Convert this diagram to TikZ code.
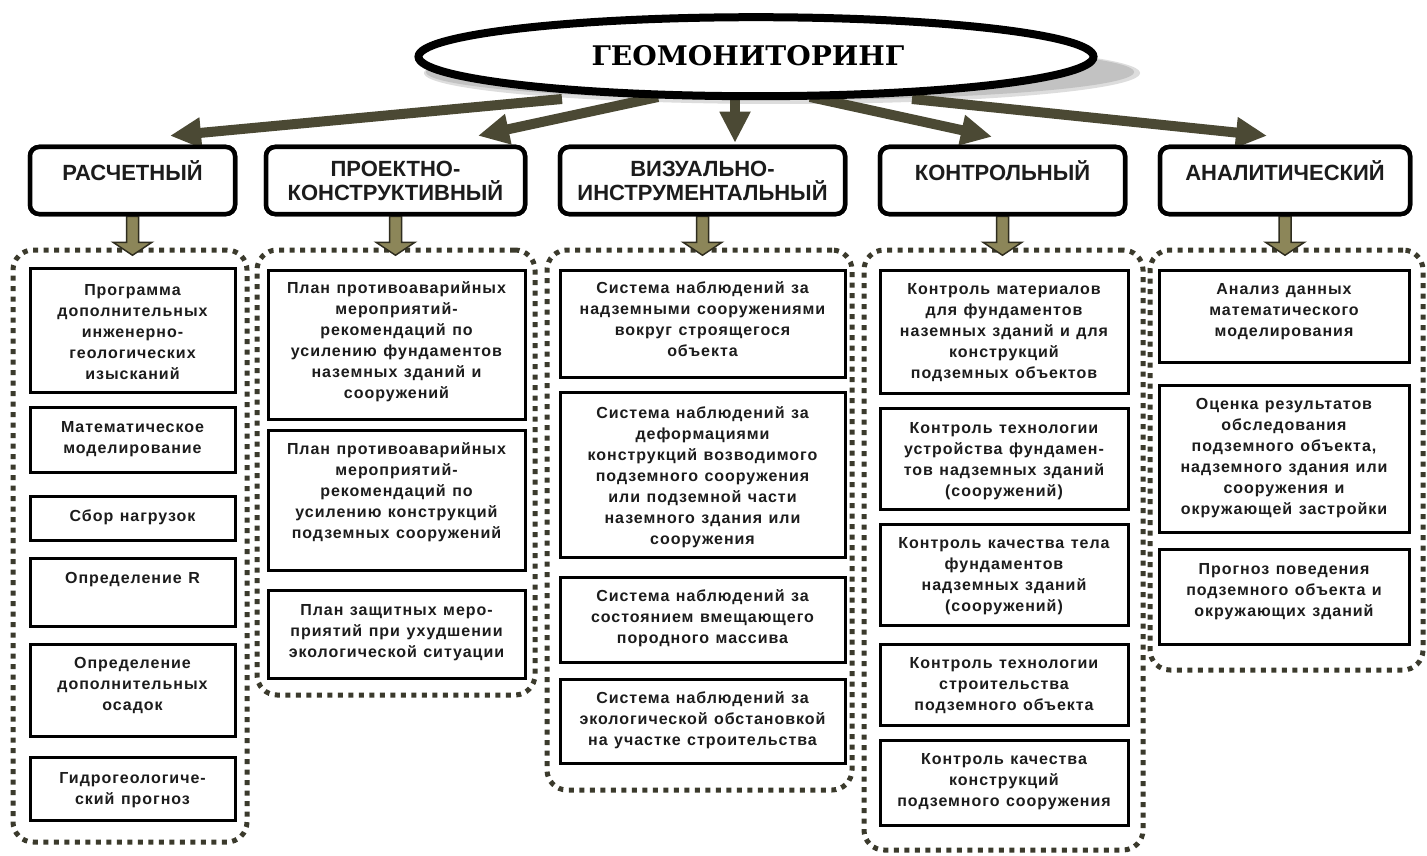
\documentclass[tikz,border=0pt]{standalone}
\usepackage{fontspec}
\setmainfont{Liberation Sans}
\newfontfamily\geofont[FakeStretch=1.04]{DejaVu Serif}
\newfontfamily\cellfont[LetterSpace=6]{Liberation Sans}
\usetikzlibrary{arrows.meta,calc,shapes.geometric}
\definecolor{dotc}{HTML}{3B3A2C}
\definecolor{arrowc}{HTML}{4B4934}
\definecolor{dnfill}{HTML}{8C8659}
\definecolor{dnedge}{HTML}{2F2D1F}
\definecolor{shadowc}{HTML}{C2C2C2}
\definecolor{txtc}{HTML}{1C1C1C}
\newcommand\mkbox[6]{\node[#1,minimum width={(#5-#3)*1pt},minimum height={(#6-#4)*1pt}] (#2) at ({(#3+#5)/2},{(#4+#6)/2}) {};}
\newcommand\cstrut{\rule{0pt}{12pt}}
\newcommand\tstrut{\rule{0pt}{16pt}}
\newcommand\cellset{\cellfont\bfseries\fontsize{16}{21}\selectfont\spaceskip=6.5pt plus 1pt\relax}
\newcommand\dnarrow[1]{\filldraw[dnarr] ($(#1.south)+(-6,0)$) -- ($(#1.south)+(-6,26)$) -- ($(#1.south)+(-19.5,26)$) -- ($(#1.south)+(0,39)$) -- ($(#1.south)+(19.5,26)$) -- ($(#1.south)+(6,26)$) -- ($(#1.south)+(6,0)$) -- cycle;}
\tikzset{
  topbox/.style={draw=black, line width=4.5pt, rounded corners=9pt, fill=white, inner sep=0pt},
  cellbox/.style={draw=black, line width=3pt, fill=white, inner sep=0pt},
  cont/.style={draw=dotc, line width=5pt, dash pattern=on 5pt off 5.5pt, rounded corners=20pt, inner sep=0pt},
  toptxt/.style={anchor=north, inner sep=0pt, align=center, text=txtc, font=\bfseries\fontsize{22}{24}\selectfont},
  celltxt/.style={anchor=north, inner sep=0pt, align=center, text=txtc, font=\cellset},
  bigarrow/.style={draw=arrowc, line width=10pt, -{Triangle[length=31pt,width=29pt]}},
  dnarr/.style={fill=dnfill, draw=dnedge, line width=1.5pt, line join=miter},
}
\begin{document}
\begin{tikzpicture}[x=1pt,y=-1pt]
\fill[white] (0,0) rectangle (1427,856);
\useasboundingbox (0,0) rectangle (1427,856);

% top level boxes
\mkbox{topbox}{r1}{30}{147}{235}{214}
\mkbox{topbox}{r2}{266}{147}{525}{214}
\mkbox{topbox}{r3}{560}{147}{845}{214}
\mkbox{topbox}{r4}{880}{147}{1125}{214}
\mkbox{topbox}{r5}{1160}{147}{1410}{214}

% shadow of ellipse
\fill[shadowc!55] (782,73) ellipse [x radius=358, y radius=31];
\fill[shadowc] (780,72) ellipse [x radius=354, y radius=28];

% ellipse tails and arrow tips
\coordinate (s1) at (562,99);
\coordinate (s2) at (658,97);
\coordinate (s3) at (735,98);
\coordinate (s4) at (810,97);
\coordinate (s5) at (912,99);
\coordinate (e1) at ($(r1.north)+(37.5,-9)$);
\coordinate (e2) at ($(r2.north)+(82.5,-9)$);
\coordinate (e3) at ($(r3.north)+(32.5,-2)$);
\coordinate (e4) at ($(r4.north)+(-10.5,-8)$);
\coordinate (e5) at ($(r5.north)+(-18,-9)$);
\draw[bigarrow] (s1) -- (e1);
\draw[bigarrow] (s2) -- (e2);
\draw[bigarrow] (s3) -- (e3);
\draw[bigarrow] (s4) -- (e4);
\draw[bigarrow] (s5) -- (e5);

% ellipse
\node[draw=black, fill=white, ellipse, line width=8pt, minimum width=675pt, minimum height=79pt, inner sep=0pt] (geo) at (756,56.7) {};
\node[inner sep=0pt, text=black, font=\geofont\bfseries\fontsize{27}{27}\selectfont] (geot) at (748,56) {ГЕОМОНИТОРИНГ};

% containers
\mkbox{cont}{k1}{13}{250}{247}{842}
\mkbox{cont}{k2}{257}{250}{535}{695}
\mkbox{cont}{k3}{547}{250}{852}{790}
\mkbox{cont}{k4}{864}{250}{1143}{850}
\mkbox{cont}{k5}{1150}{250}{1423}{670}

% down arrows
\dnarrow{r1}
\dnarrow{r2}
\dnarrow{r3}
\dnarrow{r4}
\dnarrow{r5}

% redraw top boxes over arrow tops
\mkbox{topbox}{r1b}{30}{147}{235}{214}
\mkbox{topbox}{r2b}{266}{147}{525}{214}
\mkbox{topbox}{r3b}{560}{147}{845}{214}
\mkbox{topbox}{r4b}{880}{147}{1125}{214}
\mkbox{topbox}{r5b}{1160}{147}{1410}{214}

\node[toptxt] (r1t) at (132.5,160) {\tstrut РАСЧЕТНЫЙ};
\node[toptxt] (r2t) at (395.5,160) {\tstrut ПРОЕКТНО-\\КОНСТРУКТИВНЫЙ};
\node[toptxt] (r3t) at (702.5,160) {\tstrut ВИЗУАЛЬНО-\\ИНСТРУМЕНТАЛЬНЫЙ};
\node[toptxt] (r4t) at (1002.5,160) {\tstrut КОНТРОЛЬНЫЙ};
\node[toptxt] (r5t) at (1285,160) {\tstrut АНАЛИТИЧЕСКИЙ};

% column 1
\mkbox{cellbox}{a1}{30}{268}{235}{392}
\mkbox{cellbox}{a2}{30}{407}{235}{472}
\mkbox{cellbox}{a3}{30}{496}{235}{540}
\mkbox{cellbox}{a4}{30}{558}{235}{626}
\mkbox{cellbox}{a5}{30}{644}{235}{736}
\mkbox{cellbox}{a6}{30}{757}{235}{820}
\node[celltxt] (a1t) at (132.5,283) {\cstrut Программа\\дополнительных\\инженерно-\\геологических\\изысканий};
\node[celltxt] (a2t) at (132.5,420) {\cstrut Математическое\\моделирование};
\node[celltxt] (a3t) at (132.5,509) {\cstrut Сбор нагрузок};
\node[celltxt] (a4t) at (132.5,571) {\cstrut Определение R};
\node[celltxt] (a5t) at (132.5,656) {\cstrut Определение\\дополнительных\\осадок};
\node[celltxt] (a6t) at (132.5,771) {\cstrut Гидрогеологиче-\\ский прогноз};

% column 2
\mkbox{cellbox}{b1}{268}{270}{525}{419}
\mkbox{cellbox}{b2}{268}{430}{525}{570}
\mkbox{cellbox}{b3}{268}{590}{525}{678}
\node[celltxt] (b1t) at (396.5,281) {\cstrut План противоаварийных\\мероприятий-\\рекомендаций по\\усилению фундаментов\\наземных зданий и\\сооружений};
\node[celltxt] (b2t) at (396.5,442) {\cstrut План противоаварийных\\мероприятий-\\рекомендаций по\\усилению конструкций\\подземных сооружений};
\node[celltxt] (b3t) at (396.5,603) {\cstrut План защитных меро-\\приятий при ухудшении\\экологической ситуации};

% column 3
\mkbox{cellbox}{c1}{560}{270}{845}{377}
\mkbox{cellbox}{c2}{560}{392}{845}{557}
\mkbox{cellbox}{c3}{560}{577}{845}{662}
\mkbox{cellbox}{c4}{560}{679}{845}{763}
\node[celltxt] (c1t) at (702.5,281) {\cstrut Система наблюдений за\\надземными сооружениями\\вокруг строящегося\\объекта};
\node[celltxt] (c2t) at (702.5,406) {\cstrut Система наблюдений за\\деформациями\\конструкций возводимого\\подземного сооружения\\или подземной части\\наземного здания или\\сооружения};
\node[celltxt] (c3t) at (702.5,589) {\cstrut Система наблюдений за\\состоянием вмещающего\\породного массива};
\node[celltxt] (c4t) at (702.5,691) {\cstrut Система наблюдений за\\экологической обстановкой\\на участке строительства};

% column 4
\mkbox{cellbox}{d1}{880}{270}{1128}{393}
\mkbox{cellbox}{d2}{880}{408}{1128}{509}
\mkbox{cellbox}{d3}{880}{524}{1128}{625}
\mkbox{cellbox}{d4}{880}{644}{1128}{725}
\mkbox{cellbox}{d5}{880}{740}{1128}{825}
\node[celltxt] (d1t) at (1004,282) {\cstrut Контроль материалов\\для фундаментов\\наземных зданий и для\\конструкций\\подземных объектов};
\node[celltxt] (d2t) at (1004,421) {\cstrut Контроль технологии\\устройства фундамен-\\тов надземных зданий\\(сооружений)};
\node[celltxt] (d3t) at (1004,536) {\cstrut Контроль качества тела\\фундаментов\\надземных зданий\\(сооружений)};
\node[celltxt] (d4t) at (1004,656) {\cstrut Контроль технологии\\строительства\\подземного объекта};
\node[celltxt] (d5t) at (1004,752) {\cstrut Контроль качества\\конструкций\\подземного сооружения};

% column 5
\mkbox{cellbox}{e1}{1159}{270}{1409}{362}
\mkbox{cellbox}{e2}{1159}{385}{1409}{532}
\mkbox{cellbox}{e3}{1159}{549}{1409}{644}
\node[celltxt] (e1t) at (1284,282) {\cstrut Анализ данных\\математического\\моделирования};
\node[celltxt] (e2t) at (1284,397) {\cstrut Оценка результатов\\обследования\\подземного объекта,\\надземного здания или\\сооружения и\\окружающей застройки};
\node[celltxt] (e3t) at (1284,562) {\cstrut Прогноз поведения\\подземного объекта и\\окружающих зданий};
\end{tikzpicture}
\end{document}
